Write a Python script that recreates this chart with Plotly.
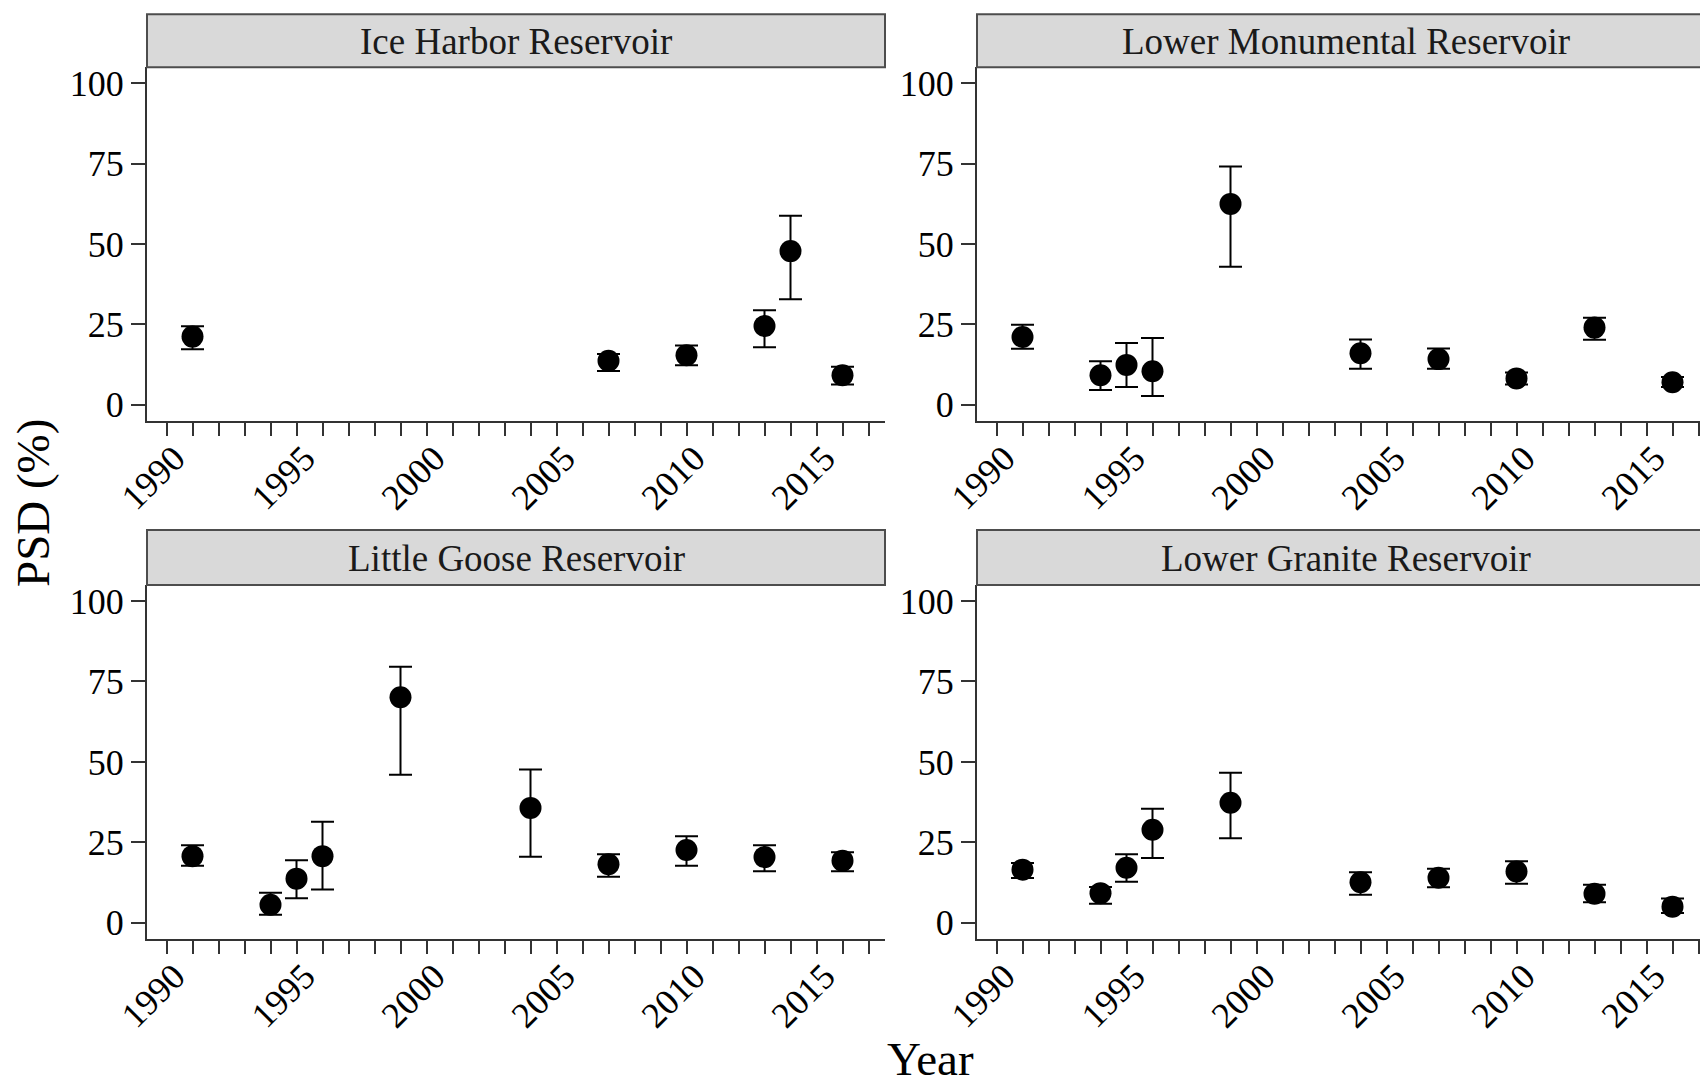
import plotly.graph_objects as go

# ---------------- data ----------------
panel_names = ["Ice Harbor Reservoir", "Lower Monumental Reservoir",
               "Little Goose Reservoir", "Lower Granite Reservoir"]

ih_years = [1991, 2007, 2010, 2013, 2014, 2016]
ih_psd   = [21.2, 13.7, 15.4, 24.5, 47.8, 9.2]
ih_upper = [24.4, 15.8, 18.4, 29.4, 58.8, 11.8]
ih_lower = [17.3, 10.5, 12.3, 17.9, 32.8, 6.3]

lm_years = [1991, 1994, 1995, 1996, 1999, 2004, 2007, 2010, 2013, 2016]
lm_psd   = [21.1, 9.2, 12.4, 10.4, 62.5, 16.0, 14.2, 8.2, 24.0, 7.0]
lm_upper = [24.9, 13.5, 19.2, 20.8, 74.1, 20.3, 17.5, 10.0, 27.1, 8.6]
lm_lower = [17.4, 4.6, 5.5, 2.7, 42.9, 11.2, 11.2, 6.3, 20.2, 5.5]

lg_years = [1991, 1994, 1995, 1996, 1999, 2004, 2007, 2010, 2013, 2016]
lg_psd   = [20.7, 5.6, 13.7, 20.7, 70.1, 35.7, 18.2, 22.6, 20.4, 19.3]
lg_upper = [24.1, 9.3, 19.4, 31.4, 79.6, 47.6, 21.3, 26.9, 24.1, 21.9]
lg_lower = [17.7, 2.5, 7.6, 10.3, 46.0, 20.5, 14.3, 17.7, 16.0, 16.0]

lgr_years = [1991, 1994, 1995, 1996, 1999, 2004, 2007, 2010, 2013, 2016]
lgr_psd   = [16.5, 9.2, 17.1, 28.9, 37.3, 12.6, 14.0, 15.9, 9.0, 5.0]
lgr_upper = [18.6, 11.1, 21.3, 35.4, 46.6, 15.7, 16.8, 19.1, 11.8, 7.5]
lgr_lower = [13.9, 5.9, 12.7, 20.1, 26.3, 8.7, 11.0, 12.1, 6.4, 3.0]

x_tick_vals = [1990, 1995, 2000, 2005, 2010, 2015]
x_tick_text = ["1990", "1995", "2000", "2005", "2010", "2015"]
y_tick_vals = [0, 25, 50, 75, 100]
y_tick_text = ["0", "25", "50", "75", "100"]

# ---------------- layout geometry ----------------
W, H = 1700, 1086
FONT = "Liberation Serif"

def px_x(p):
    return p / W

def px_y(p):
    return 1 - p / H

col_dom = [(147, 885), (977, 1700)]
row_dom = [(67.3, 420.8), (585.0, 938.8)]   # plot area top/bottom (px)
strip_top = [14.3, 530.1]
year_per_px = 1 / 26.0
x_left = 1989.25

panels = [
    (ih_years, ih_psd, ih_upper, ih_lower, 0, 0),
    (lm_years, lm_psd, lm_upper, lm_lower, 0, 1),
    (lg_years, lg_psd, lg_upper, lg_lower, 1, 0),
    (lgr_years, lgr_psd, lgr_upper, lgr_lower, 1, 1),
]

fig = go.Figure()
layout = dict(
    width=W, height=H,
    margin=dict(l=0, r=0, t=0, b=0, autoexpand=False),
    paper_bgcolor="white", plot_bgcolor="white",
    showlegend=False,
    font=dict(family=FONT, color="black"),
)
shapes = []
annotations = []

for i, (yrs, psd, up, lo, r, c) in enumerate(panels):
    k = "" if i == 0 else str(i + 1)
    xa, ya = "x" + k, "y" + k
    fig.add_trace(go.Scatter(
        x=yrs, y=psd, mode="markers", xaxis=xa, yaxis=ya,
        marker=dict(symbol="circle", size=22, color="black"),
        error_y=dict(type="data", symmetric=False,
                     array=[u - v for u, v in zip(up, psd)],
                     arrayminus=[v - l for v, l in zip(psd, lo)],
                     thickness=2, width=11.5, color="black"),
        cliponaxis=False,
    ))
    x0p, x1p = col_dom[c]
    t, b = row_dom[r]
    xr = [x_left, x_left + (x1p - x0p) * year_per_px]
    layout["xaxis" + k] = dict(
        domain=[px_x(x0p), px_x(x1p)], anchor=ya, range=xr,
        automargin=False,
        tickmode="array", tickvals=x_tick_vals, ticktext=x_tick_text,
        tickangle=-45, ticks="outside", ticklen=13, tickwidth=2,
        tickcolor="#333333",
        ticklabelshift=8, ticklabelstandoff=-13,
        minor=dict(tickmode="linear", tick0=1990, dtick=1, ticks="outside",
                   ticklen=13, tickwidth=2, tickcolor="#333333"),
        showline=True, linecolor="#333333", linewidth=2,
        showgrid=False, zeroline=False,
        tickfont=dict(family=FONT, size=36, color="black"),
    )
    layout["yaxis" + k] = dict(
        domain=[px_y(b), px_y(t)], anchor=xa, range=[-5, 105],
        automargin=False,
        tickmode="array", tickvals=y_tick_vals, ticktext=y_tick_text,
        ticks="outside", ticklen=14, tickwidth=2, tickcolor="#333333",
        showline=True, linecolor="#333333", linewidth=2,
        showgrid=False, zeroline=False,
        tickfont=dict(family=FONT, size=36, color="black"),
    )
    # strip
    sx1 = x1p if c == 0 else x1p + 20
    shapes.append(dict(type="rect", xref="paper", yref="paper",
                       x0=px_x(x0p), x1=px_x(sx1),
                       y0=px_y(t), y1=px_y(strip_top[r]),
                       fillcolor="#D9D9D9", line=dict(color="#4D4D4D", width=2),
                       layer="above"))
    full_right = x0p + 738
    annotations.append(dict(text=panel_names[i], xref="paper", yref="paper",
                            x=px_x((x0p + full_right) / 2),
                            y=px_y((t + strip_top[r]) / 2 + 1),
                            xanchor="center", yanchor="middle", showarrow=False,
                            font=dict(family=FONT, size=37, color="#1a1a1a")))

annotations.append(dict(text="PSD (%)", xref="paper", yref="paper",
                        x=px_x(33), y=px_y(503), textangle=-90,
                        xanchor="center", yanchor="middle", showarrow=False,
                        font=dict(family=FONT, size=47, color="black")))
annotations.append(dict(text="Year", xref="paper", yref="paper",
                        x=px_x(931), y=px_y(1059),
                        xanchor="center", yanchor="middle", showarrow=False,
                        font=dict(family=FONT, size=47, color="black")))

layout["shapes"] = shapes
layout["annotations"] = annotations
fig.update_layout(**layout)
fig.write_html("out.html")
